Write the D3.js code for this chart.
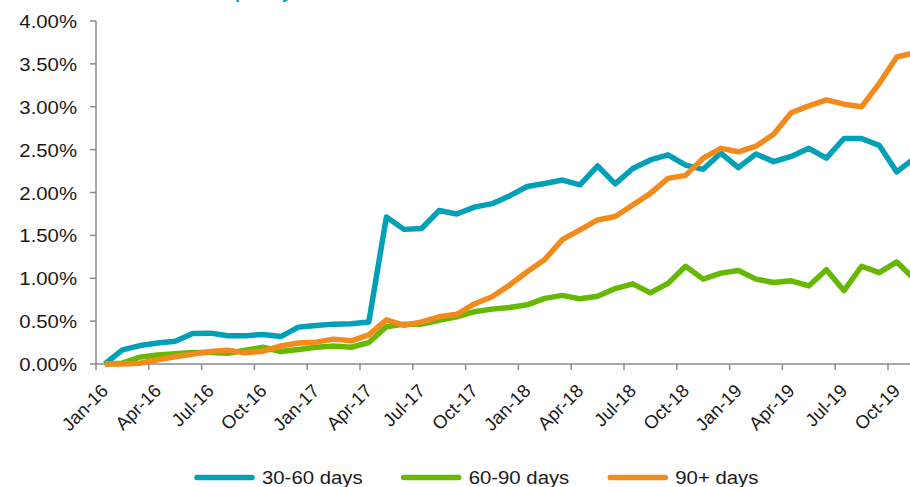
<!DOCTYPE html>
<html>
<head>
<meta charset="utf-8">
<script src="https://cdn.jsdelivr.net/npm/d3@7"></script>
<style>
  html, body { margin: 0; padding: 0; background: #ffffff; overflow: hidden; }
  svg { display: block; }
</style>
</head>
<body>
<svg id="chart" width="910" height="487"></svg>
<script>
// Monthly delinquency rates (% of balance) by bucket
const months = [
  "Jan-16","Feb-16","Mar-16","Apr-16","May-16","Jun-16","Jul-16","Aug-16","Sep-16","Oct-16","Nov-16","Dec-16",
  "Jan-17","Feb-17","Mar-17","Apr-17","May-17","Jun-17","Jul-17","Aug-17","Sep-17","Oct-17","Nov-17","Dec-17",
  "Jan-18","Feb-18","Mar-18","Apr-18","May-18","Jun-18","Jul-18","Aug-18","Sep-18","Oct-18","Nov-18","Dec-18",
  "Jan-19","Feb-19","Mar-19","Apr-19","May-19","Jun-19","Jul-19","Aug-19","Sep-19","Oct-19","Nov-19"
];

const days30to60 = [
  0, 0.165, 0.215, 0.245, 0.265, 0.355, 0.36, 0.33, 0.33, 0.345, 0.32, 0.43,
  0.45, 0.465, 0.47, 0.49, 1.715, 1.57, 1.58, 1.79, 1.75, 1.83, 1.87, 1.96,
  2.07, 2.105, 2.145, 2.09, 2.31, 2.10, 2.28, 2.38, 2.44, 2.32, 2.27, 2.46,
  2.29, 2.45, 2.36, 2.42, 2.515, 2.40, 2.63, 2.63, 2.55, 2.24, 2.40
];

const days60to90 = [
  0, 0.01, 0.08, 0.105, 0.12, 0.135, 0.135, 0.125, 0.16, 0.195, 0.145, 0.17,
  0.195, 0.21, 0.195, 0.25, 0.435, 0.465, 0.465, 0.51, 0.55, 0.61, 0.64, 0.66,
  0.69, 0.765, 0.80, 0.76, 0.79, 0.88, 0.935, 0.83, 0.94, 1.14, 0.99, 1.06,
  1.09, 0.99, 0.95, 0.97, 0.91, 1.10, 0.855, 1.14, 1.065, 1.19, 0.99
];

const days90plus = [
  0, 0, 0.01, 0.05, 0.085, 0.115, 0.145, 0.16, 0.13, 0.15, 0.21, 0.245,
  0.255, 0.29, 0.27, 0.34, 0.515, 0.45, 0.49, 0.55, 0.58, 0.70, 0.785, 0.92,
  1.075, 1.22, 1.45, 1.565, 1.68, 1.72, 1.855, 1.99, 2.165, 2.20, 2.40, 2.515,
  2.475, 2.54, 2.68, 2.93, 3.01, 3.08, 3.03, 3.00, 3.27, 3.58, 3.63
];

const yTicks = [0, 0.5, 1.0, 1.5, 2.0, 2.5, 3.0, 3.5, 4.0];
const xTickLabels = [
  "Jan-16","Apr-16","Jul-16","Oct-16","Jan-17","Apr-17","Jul-17","Oct-17",
  "Jan-18","Apr-18","Jul-18","Oct-18","Jan-19","Apr-19","Jul-19","Oct-19"
];
const seriesNames = ["30-60 days", "60-90 days", "90+ days"];
const seriesColors = ["#00a0b9", "#66b800", "#f28b1c"];
const seriesValues = [days30to60, days60to90, days90plus];

// ---- layout ----
const svg = d3.select("#chart");
const plotLeft = 96, plotTop = 21, plotBottom = 364, bandStep = 17.6;
const axisColor = "#8a8a8a";
const fontFamily = "'Liberation Sans', Arial, sans-serif";
const wide = 1.1; // horizontal stretch of the label face

const x = d3.scaleBand()
  .domain(months)
  .range([plotLeft, plotLeft + months.length * bandStep])
  .paddingInner(0).paddingOuter(0);
const y = d3.scaleLinear().domain([0, 4]).range([plotBottom, plotTop]);
const cx = m => x(m) + x.bandwidth() / 2;

// title (sits above the top edge)
svg.append("text")
  .attr("x", 185).attr("y", -2.5)
  .attr("font-family", fontFamily).attr("font-weight", "bold")
  .attr("font-size", 18).attr("fill", seriesColors[0])
  .text("Delinquency rates");

// ---- y axis ----
const yAxis = svg.append("g");
yAxis.append("line")
  .attr("x1", plotLeft).attr("x2", plotLeft)
  .attr("y1", y(4)).attr("y2", y(0))
  .attr("stroke", axisColor).attr("stroke-width", 1.5);
yAxis.selectAll("line.tick").data(yTicks).join("line")
  .attr("class", "tick")
  .attr("x1", plotLeft - 6).attr("x2", plotLeft)
  .attr("y1", d => y(d)).attr("y2", d => y(d))
  .attr("stroke", axisColor).attr("stroke-width", 1.5);
yAxis.selectAll("text").data(yTicks).join("text")
  .attr("transform", d => `translate(${plotLeft - 19},${y(d) + 7}) scale(${wide},1)`)
  .attr("text-anchor", "end")
  .attr("font-family", fontFamily).attr("font-size", 18.5).attr("fill", "#1a1a1a")
  .text(d => d.toFixed(2) + "%");

// ---- x axis ----
const xAxis = svg.append("g");
xAxis.append("line")
  .attr("x1", plotLeft).attr("x2", x.range()[1] + bandStep)
  .attr("y1", plotBottom).attr("y2", plotBottom)
  .attr("stroke", axisColor).attr("stroke-width", 1.5);
xAxis.selectAll("line.tick").data(xTickLabels).join("line")
  .attr("class", "tick")
  .attr("x1", d => x(d)).attr("x2", d => x(d))
  .attr("y1", plotBottom).attr("y2", plotBottom + 6)
  .attr("stroke", axisColor).attr("stroke-width", 1.5);
xAxis.selectAll("text").data(xTickLabels).join("text")
  .attr("transform", d => `translate(${cx(d) + 4.6},${plotBottom + 28}) rotate(-45)`)
  .attr("text-anchor", "end")
  .attr("font-family", fontFamily).attr("font-size", 18.5).attr("fill", "#1a1a1a")
  .text(d => d);

// ---- series lines ----
const line = d3.line()
  .x((d, i) => cx(months[i]))
  .y(d => y(d));
svg.append("g").selectAll("path").data(seriesValues).join("path")
  .attr("d", d => line(d))
  .attr("fill", "none")
  .attr("stroke", (d, i) => seriesColors[i])
  .attr("stroke-width", 5.5)
  .attr("stroke-linejoin", "round")
  .attr("stroke-linecap", "butt");

// ---- legend ----
const legend = svg.append("g");
let lx = 197;
const ly = 477.5, swatch = 55;
seriesNames.forEach((name, i) => {
  legend.append("line")
    .attr("x1", lx).attr("x2", lx + swatch)
    .attr("y1", ly).attr("y2", ly)
    .attr("stroke", seriesColors[i]).attr("stroke-width", 5.5)
    .attr("stroke-linecap", "round");
  const t = legend.append("text")
    .attr("transform", `translate(${lx + swatch + 10},${ly + 6.5}) scale(${wide},1)`)
    .attr("font-family", fontFamily).attr("font-size", 18.5).attr("fill", "#1a1a1a")
    .text(name);
  lx += swatch + 10 + t.node().getComputedTextLength() * wide + 41;
});
</script>
</body>
</html>
